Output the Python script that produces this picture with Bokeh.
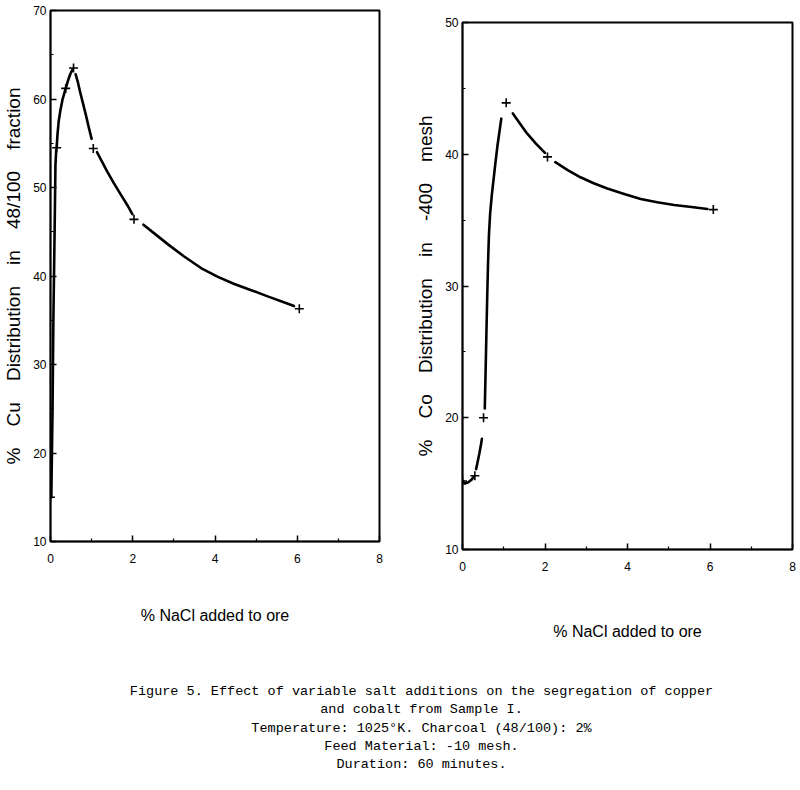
from bokeh.plotting import figure
from bokeh.layouts import column, row
from bokeh.models import Range1d, FixedTicker, ColumnDataSource, Spacer
from bokeh.embed import file_html
from bokeh.resources import INLINE
from bokeh.core.properties import value

# ---------------- data ----------------
nacl_ticks = [0, 2, 4, 6, 8]
nacl_minor = [1, 3, 5, 7]
cu_ticks = [10, 20, 30, 40, 50, 60, 70]
cu_minor = [15, 25, 35, 45, 55, 65]
co_ticks = [10, 20, 30, 40, 50]
co_minor = [15, 25, 35, 45]

# Cu distribution in 48/100 fraction (measured points)
cu_nacl = [0.0, 0.15, 0.37, 0.56, 1.04, 2.03, 6.05]
cu_pct = [15.0, 54.5, 61.2, 63.5, 54.4, 46.4, 36.3]

# hand-drawn Cu curve, read along the ink, one list per pen stroke
cu_curve_x = [
    [0.02, 0.05, 0.07, 0.10, 0.12, 0.14],
    [0.15, 0.17, 0.20, 0.24, 0.29, 0.35, 0.42, 0.48, 0.53],
    [0.61, 0.66, 0.72, 0.79, 0.86, 0.93, 1.00],
    [1.13, 1.22, 1.38, 1.54, 1.71, 1.87, 1.99],
    [2.26, 2.50, 2.85, 3.25, 3.66, 4.07, 4.47, 4.88, 5.28, 5.69, 5.92],
]
cu_curve_y = [
    [15.0, 25.0, 35.0, 45.0, 52.5, 54.3],
    [54.5, 56.0, 57.5, 58.7, 59.9, 60.9, 62.0, 62.8, 63.3],
    [62.8, 62.0, 60.8, 59.5, 58.2, 56.8, 55.5],
    [54.0, 53.2, 51.8, 50.5, 49.2, 48.0, 47.0],
    [45.8, 44.9, 43.6, 42.2, 40.9, 39.9, 39.1, 38.4, 37.7, 37.0, 36.6],
]

# Co distribution in -400 mesh (measured points)
co_nacl = [0.0, 0.30, 0.51, 1.06, 2.06, 6.08]
co_pct = [15.2, 15.6, 20.0, 43.9, 39.8, 35.8]

co_curve_x = [
    [0.0, 0.06, 0.14, 0.22, 0.27],
    [0.33, 0.37, 0.41, 0.45, 0.47],
    [0.54, 0.56, 0.58, 0.60, 0.62, 0.64, 0.67, 0.71, 0.75, 0.80, 0.85, 0.90, 0.94],
    [1.22, 1.40, 1.56, 1.78, 2.00],
    [2.25, 2.55, 2.86, 3.18, 3.51, 3.90, 4.32, 4.72, 5.13, 5.55, 5.94],
]
co_curve_y = [
    [15.2, 15.0, 15.1, 15.3, 15.5],
    [16.1, 16.7, 17.3, 18.0, 18.4],
    [20.7, 23.5, 26.5, 29.3, 31.8, 33.8, 35.5, 36.9, 38.0, 39.4, 40.7, 41.8, 42.7],
    [43.1, 42.3, 41.6, 40.8, 40.1],
    [39.4, 38.8, 38.25, 37.8, 37.4, 37.0, 36.6, 36.35, 36.15, 36.0, 35.85],
]

GAP = "\u00a0 \u00a0\u00a0"
x_title = "% NaCl added to ore"
cu_title = GAP.join(["%", "Cu", "Distribution", "in", "48/100", "fraction"])
co_title = GAP.join(["%", "Co", "Distribution", "in", "-400", "mesh"])

caption_lines = [
    "Figure 5. Effect of variable salt additions on the segregation of copper",
    "and cobalt from Sample I.",
    "Temperature: 1025\u00b0K. Charcoal (48/100): 2%",
    "Feed Material: -10 mesh.",
    "Duration: 60 minutes.",
]

SANS = "Liberation Sans"


def make_panel(xs, ys, cx, cy, ymin, ymax, yticks, yminor, ylabel,
               fw, fh, bl, br, bt, bb, x_label_standoff):
    p = figure(frame_width=fw, frame_height=fh,
               x_range=Range1d(0, 8), y_range=Range1d(ymin, ymax),
               output_backend="svg", toolbar_location=None,
               min_border_left=bl, min_border_right=br,
               min_border_top=bt, min_border_bottom=bb)
    p.background_fill_color = "white"
    p.border_fill_color = "white"
    p.outline_line_color = "black"
    p.outline_line_width = 2
    p.grid.visible = False
    p.xaxis.ticker = FixedTicker(ticks=nacl_ticks, minor_ticks=nacl_minor)
    p.yaxis.ticker = FixedTicker(ticks=yticks, minor_ticks=yminor)
    for ax in p.axis:
        ax.major_tick_in = 6
        ax.major_tick_out = 0
        ax.minor_tick_in = 3
        ax.minor_tick_out = 0
        ax.axis_line_width = 1.5
        ax.major_tick_line_width = 1.5
        ax.minor_tick_line_width = 1.2
        ax.major_label_text_font = SANS
        ax.major_label_text_font_size = "12px"
        ax.major_label_text_color = "black"
        ax.axis_label_text_font = SANS
        ax.axis_label_text_font_style = "normal"
        ax.axis_label_text_color = "black"
    p.xaxis.axis_label = x_title
    p.xaxis.axis_label_text_font_size = "16px"
    p.xaxis.major_label_standoff = 12
    p.xaxis.axis_label_standoff = x_label_standoff
    p.yaxis.axis_label = ylabel
    p.yaxis.axis_label_text_font_size = "19px"
    p.yaxis.major_label_standoff = 4
    p.yaxis.axis_label_standoff = 6

    p.multi_line(xs=cx, ys=cy, line_color="black", line_width=2.6,
                 line_cap="round", line_join="round")
    p.scatter(x=xs, y=ys, marker="cross", size=9, line_color="black",
              line_width=1.6)
    return p


p1 = make_panel(cu_nacl, cu_pct, cu_curve_x, cu_curve_y, 10, 70,
                cu_ticks, cu_minor, cu_title,
                fw=329, fh=531, bl=50, br=21, bt=10, bb=109,
                x_label_standoff=41)
p2 = make_panel(co_nacl, co_pct, co_curve_x, co_curve_y, 10, 50,
                co_ticks, co_minor, co_title,
                fw=330, fh=527, bl=62, br=8, bt=10, bb=101,
                x_label_standoff=49)

cap = figure(width=800, height=140, x_range=Range1d(0, 800),
             y_range=Range1d(140, 0), output_backend="svg",
             toolbar_location=None, min_border=0)
cap.axis.visible = False
cap.grid.visible = False
cap.outline_line_color = None
cap.background_fill_color = "white"
cap.border_fill_color = "white"
cap_src = ColumnDataSource(dict(
    x=[421] * len(caption_lines),
    y=[41, 59, 78, 96, 114],
    t=caption_lines,
))
cap.text(x="x", y="y", text="t", source=cap_src, text_align="center",
         text_baseline="middle", text_font=value("Liberation Mono"),
         text_font_size="13.5px", text_color="black")

top = row(p1, column(Spacer(width=400, height=12), p2))
layout = column(top, cap)
open("out.html", "w").write(file_html(layout, INLINE))
